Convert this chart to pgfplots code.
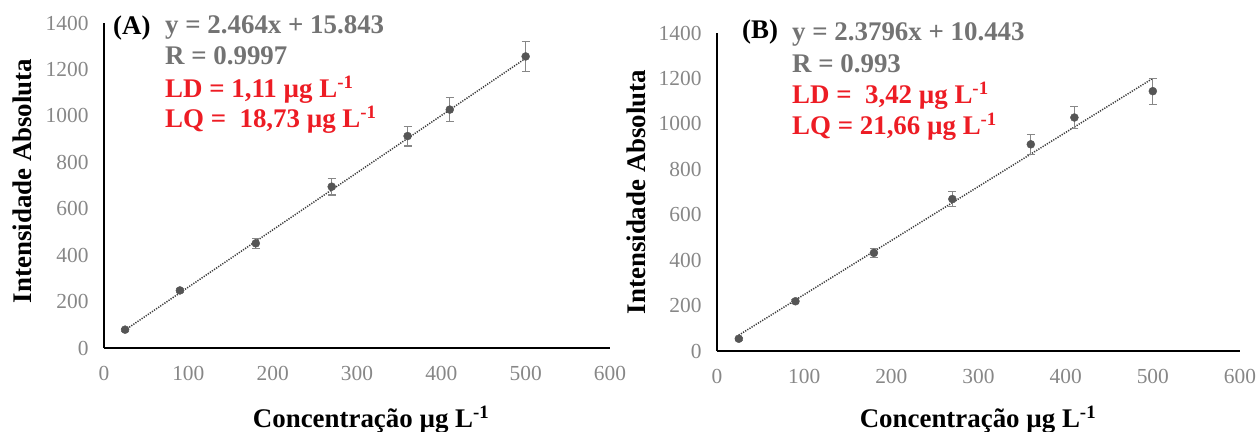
\documentclass[border=0pt]{standalone}
\usepackage{pgfplots}
\pgfplotsset{compat=1.18}
\usepackage{fontspec}
\setmainfont{Liberation Serif}
\definecolor{tickgray}{RGB}{135,135,135}
\definecolor{eqgray}{RGB}{115,115,115}
\definecolor{ldred}{RGB}{237,28,36}
\definecolor{markgray}{RGB}{85,85,85}
\definecolor{trendgray}{RGB}{60,60,60}

\pgfplotsset{
  calib/.style={
    scale only axis,
    axis lines*=left,
    axis line style={black, line width=2.6bp},
    xmin=0, xmax=600, ymin=0, ymax=1400,
    xtick distance=100, ytick distance=200,
    major tick length=0pt,
    clip=false,
    /pgf/number format/assume math mode=true,
    /pgf/number format/set thousands separator={},
    ticklabel style={font=\fontsize{21.5}{24}\selectfont, text=tickgray},
    xticklabel style={yshift=-15bp},
    yticklabel style={xshift=-12bp},
    label style={font=\fontsize{27}{30}\bfseries},
    error bars/error bar style={color=tickgray, line width=1.1bp},
    error bars/error mark options={rotate=90, mark size=4bp, line width=1.1bp, color=tickgray},
  },
  pts/.style={only marks, mark=*, mark size=4bp, color=markgray,
    error bars/.cd, y dir=both, y explicit},
  trend/.style={trendgray, line width=1.5bp, dash pattern=on 1.2bp off 1.3bp, no marks},
}

\begin{document}
\begin{tikzpicture}
\useasboundingbox (0,0) rectangle (1257bp,-432bp);

% ---------------- (A)
\begin{axis}[calib,
  at={(104bp,-348bp)}, anchor=south west,
  width=506bp, height=325bp,
  xlabel={Concentração µg L\textsuperscript{-1}},
  ylabel={Intensidade Absoluta},
  xlabel style={at={(axis description cs:0.528,-0.246)}, anchor=base},
  ylabel style={at={(axis description cs:-0.162,0.514)}, anchor=center},
]
\addplot[trend] coordinates {(25,77.4) (500,1247.8)};
\addplot[pts] coordinates {
  (25,79)   +- (0,6)
  (90,248)  +- (0,10)
  (180,451) +- (0,21)
  (270,695) +- (0,36)
  (360,913) +- (0,43)
  (410,1027) +- (0,52)
  (500,1256) +- (0,63)
};
\end{axis}

% ---------------- (B)
\begin{axis}[calib,
  at={(717bp,-351bp)}, anchor=south west,
  width=523bp, height=318bp,
  xlabel={Concentração µg L\textsuperscript{-1}},
  ylabel={Intensidade Absoluta},
  xlabel style={at={(axis description cs:0.499,-0.239)}, anchor=base},
  ylabel style={at={(axis description cs:-0.155,0.5)}, anchor=center},
]
\addplot[trend] coordinates {(25,69.9) (500,1200.2)};
\addplot[pts] coordinates {
  (25,54)   +- (0,6)
  (90,219)  +- (0,9)
  (180,432) +- (0,20)
  (270,669) +- (0,33)
  (360,910) +- (0,45)
  (410,1028) +- (0,50)
  (500,1144) +- (0,57)
};
\end{axis}

% annotations
\begin{scope}[every node/.style={anchor=base west, inner sep=0pt, font=\fontsize{27}{30}\bfseries}]
\node at (113bp,-34bp) {(A)};
\node[text=eqgray] at (165bp,-33bp) {y = 2.464x + 15.843};
\node[text=eqgray] at (165bp,-64bp) {R = 0.9997};
\node[text=ldred] at (165bp,-97bp) {LD = 1,11 µg L\textsuperscript{-1}};
\node[text=ldred] at (165bp,-127bp) {LQ =\ \ 18,73 µg L\textsuperscript{-1}};
\node at (742bp,-38bp) {(B)};
\node[text=eqgray] at (792bp,-40bp) {y = 2.3796x + 10.443};
\node[text=eqgray] at (792bp,-72bp) {R = 0.993};
\node[text=ldred] at (792bp,-103bp) {LD =\ \ 3,42 µg L\textsuperscript{-1}};
\node[text=ldred] at (792bp,-134bp) {LQ = 21,66 µg L\textsuperscript{-1}};
\end{scope}
\end{tikzpicture}
\end{document}
